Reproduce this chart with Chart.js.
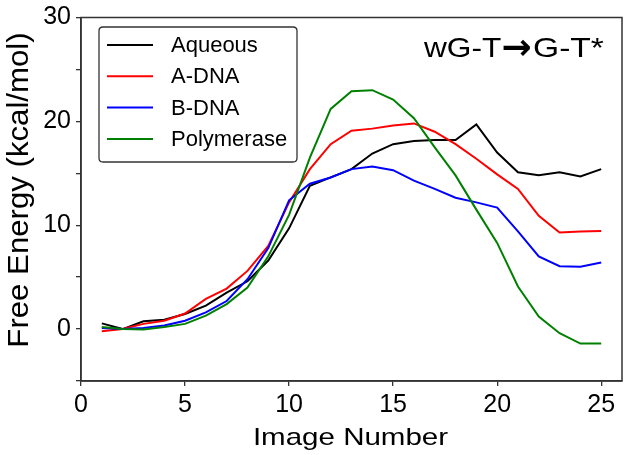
<!DOCTYPE html>
<html>
<head>
<meta charset="utf-8">
<script src="https://cdn.jsdelivr.net/npm/chart.js@4"></script>
<style>
html,body{margin:0;padding:0;background:#fff;}
#wrap{width:625px;height:455px;}
</style>
</head>
<body>
<div id="wrap"><canvas id="c" width="625" height="455"></canvas></div>
<script>
const imageNumbers = [1,2,3,4,5,6,7,8,9,10,11,12,13,14,15,16,17,18,19,20,21,22,23,24,25];
const aqueous    = [0.55,0.0,0.75,0.9,1.45,2.25,3.5,4.6,6.6,9.7,13.8,14.6,15.4,16.9,17.8,18.1,18.2,18.2,19.7,17.0,15.1,14.8,15.1,14.7,15.4];
const aDNA       = [-0.2,0.0,0.5,0.8,1.5,2.9,3.9,5.6,8.0,12.2,15.4,17.8,19.1,19.3,19.6,19.8,19.0,17.8,16.4,14.9,13.5,10.9,9.3,9.4,9.45];
const bDNA       = [0.1,0.0,0.1,0.35,0.8,1.6,2.7,4.8,7.8,12.4,14.0,14.6,15.4,15.65,15.3,14.3,13.5,12.65,12.2,11.7,9.4,7.0,6.05,6.0,6.4];
const polymerase = [0.2,0.0,-0.05,0.2,0.5,1.3,2.4,4.0,7.0,11.0,16.5,21.2,22.9,23.0,22.1,20.3,17.5,14.8,11.5,8.3,4.1,1.2,-0.4,-1.4,-1.4];
const seriesNames = ['Aqueous','A-DNA','B-DNA','Polymerase'];
const seriesColors = ['#000000','#ff0000','#0000ff','#008000'];
const annotationLeft = 'wG-T';
const annotationArrow = '\u2192';
const annotationRight = 'G-T*';
const xTitle = 'Image Number';
const yTitle = 'Free Energy (kcal/mol)';
const xTickValues = [0,5,10,15,20,25];
const yTickLabels = [0,10,20,30];

const FONT = '"Liberation Sans", Arial, sans-serif';
const allSeries = [aqueous, aDNA, bDNA, polymerase];

const datasets = allSeries.map((vals, i) => ({
  label: seriesNames[i],
  data: imageNumbers.map((x, j) => ({x: x, y: vals[j]})),
  borderColor: seriesColors[i],
  backgroundColor: seriesColors[i],
  borderWidth: 2,
  pointRadius: 0,
  tension: 0,
  fill: false,
  order: allSeries.length - 1 - i
}));

const overlay = {
  id: 'overlay',
  afterDraw(chart) {
    const ctx = chart.ctx;
    const a = chart.chartArea;
    ctx.save();
    // frame
    ctx.strokeStyle = '#333';
    ctx.lineWidth = 1.5;
    ctx.strokeRect(a.left, a.top, a.right - a.left, a.bottom - a.top);
    // legend box
    const bx = 99, by = 27, bw = 198, bh = 135, r = 4;
    ctx.beginPath();
    ctx.moveTo(bx + r, by);
    ctx.lineTo(bx + bw - r, by);
    ctx.quadraticCurveTo(bx + bw, by, bx + bw, by + r);
    ctx.lineTo(bx + bw, by + bh - r);
    ctx.quadraticCurveTo(bx + bw, by + bh, bx + bw - r, by + bh);
    ctx.lineTo(bx + r, by + bh);
    ctx.quadraticCurveTo(bx, by + bh, bx, by + bh - r);
    ctx.lineTo(bx, by + r);
    ctx.quadraticCurveTo(bx, by, bx + r, by);
    ctx.closePath();
    ctx.fillStyle = 'rgba(255,255,255,0.9)';
    ctx.fill();
    ctx.strokeStyle = '#333';
    ctx.lineWidth = 1.3;
    ctx.stroke();
    ctx.font = '22px ' + FONT;
    ctx.textBaseline = 'middle';
    ctx.textAlign = 'left';
    chart.data.datasets.forEach((ds, i) => {
      const y = 45 + i * 31.3;
      ctx.strokeStyle = ds.borderColor;
      ctx.lineWidth = 2;
      ctx.beginPath();
      ctx.moveTo(107, y);
      ctx.lineTo(153, y);
      ctx.stroke();
      ctx.fillStyle = '#000';
      ctx.fillText(ds.label, 171, y + 1);
    });
    ctx.fillStyle = '#000';
    // annotation
    ctx.textBaseline = 'alphabetic';
    ctx.textAlign = 'left';
    ctx.font = '28px ' + FONT;
    ctx.save();
    ctx.translate(424, 57);
    ctx.scale(1.13, 1);
    ctx.fillText(annotationLeft, 0, 0);
    ctx.restore();
    ctx.save();
    ctx.translate(533, 57);
    ctx.scale(1.2, 1);
    ctx.fillText(annotationRight, 0, 0);
    ctx.restore();
    ctx.font = 'bold 36px "DejaVu Sans", sans-serif';
    const m = ctx.measureText(annotationArrow);
    const aw = m.actualBoundingBoxLeft + m.actualBoundingBoxRight;
    const ax = 517 - aw / 2 + m.actualBoundingBoxLeft;
    const ay = 47 + (m.actualBoundingBoxAscent - m.actualBoundingBoxDescent) / 2;
    ctx.fillText(annotationArrow, ax, ay);
    // axis titles
    ctx.font = '24px ' + FONT;
    ctx.textAlign = 'center';
    ctx.save();
    ctx.translate((a.left + a.right) / 2 - 1, 445);
    ctx.scale(1.23, 1);
    ctx.fillText(xTitle, 0, 0);
    ctx.restore();
    ctx.font = '29px ' + FONT;
    ctx.save();
    ctx.translate(28, 190);
    ctx.rotate(-Math.PI / 2);
    ctx.scale(1.075, 1);
    ctx.fillText(yTitle, 0, 0);
    ctx.restore();
    ctx.restore();
  }
};

new Chart(document.getElementById('c'), {
  type: 'line',
  data: { datasets: datasets },
  options: {
    responsive: false,
    animation: false,
    devicePixelRatio: 1,
    layout: { padding: { top: 14, right: 3, left: 0, bottom: 0 } },
    plugins: { legend: { display: false }, tooltip: { enabled: false } },
    scales: {
      x: {
        type: 'linear',
        min: 0, max: 26,
        afterFit(s) { s.height = 74; },
        afterBuildTicks(s) { s.ticks = xTickValues.map(v => ({value: v})); },
        ticks: { color: '#000', font: { family: FONT, size: 25 }, padding: 4, maxRotation: 0, includeBounds: false },
        grid: { display: true, drawOnChartArea: false, drawTicks: true, tickLength: 5, color: '#333', lineWidth: 1.3 },
        border: { display: true, color: '#333', width: 1.5 },
        title: { display: false }
      },
      y: {
        type: 'linear',
        min: -5, max: 30,
        afterFit(s) { s.width = 81; },
        ticks: {
          stepSize: 5, color: '#000', font: { family: FONT, size: 25, lineHeight: 1 }, padding: 5,
          callback: (v) => yTickLabels.includes(v) ? String(v) : ''
        },
        grid: { display: true, drawOnChartArea: false, drawTicks: true, tickLength: 5, color: '#333', lineWidth: 1.3 },
        border: { display: true, color: '#333', width: 1.5 },
        title: { display: false }
      }
    }
  },
  plugins: [overlay]
});
</script>
</body>
</html>
